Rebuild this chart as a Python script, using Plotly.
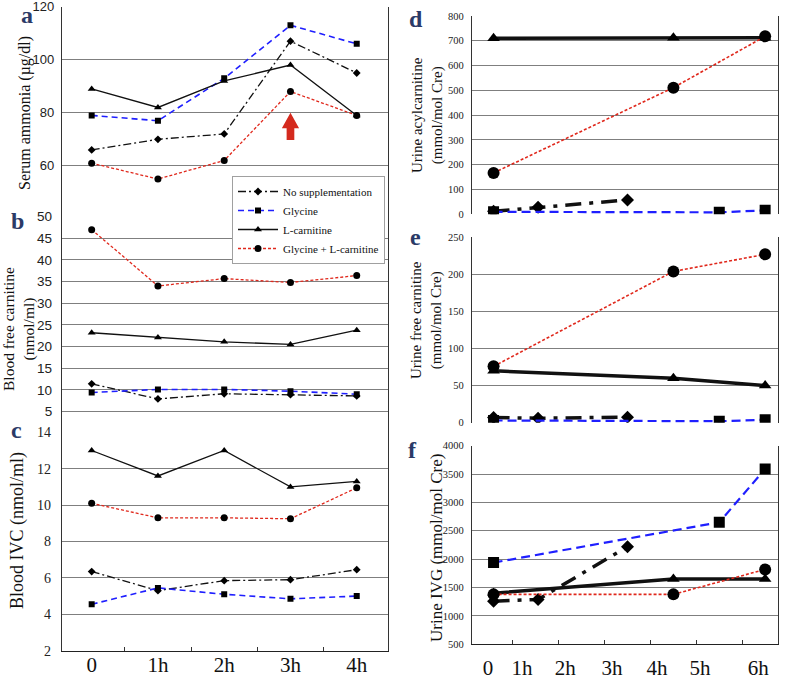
import plotly.graph_objects as go

# ---------------- data ----------------
series_names = ["No supplementation", "Glycine", "L-carnitine", "Glycine + L-carnitine"]

left_times = [0, 1, 2, 3, 4]
left_labels = ["0", "1h", "2h", "3h", "4h"]

a_nosupp = [66, 70, 72, 107, 95]
a_gly = [79, 77, 93, 113, 106]
a_lc = [89, 82, 92, 98, 79]
a_glylc = [61, 55, 62, 88, 79]

b_nosupp = [11.4, 7.9, 9.1, 8.9, 8.6]
b_gly = [9.4, 10.1, 10.1, 9.7, 9.0]
b_lc = [23.2, 22.1, 21.1, 20.5, 23.8]
b_glylc = [47.0, 34.0, 35.7, 34.8, 36.4]

c_nosupp = [6.35, 5.3, 5.85, 5.9, 6.45]
c_gly = [4.55, 5.45, 5.1, 4.85, 5.0]
c_lc = [13.0, 11.6, 13.0, 11.0, 11.3]
c_glylc = [10.1, 9.3, 9.3, 9.25, 10.95]

right_grid = [0, 1, 2, 3, 4, 5, 6]
right_labels = ["0", "1h", "2h", "3h", "4h", "5h", "6h"]
right_label_pos = [-0.04, 0.70, 1.64, 2.66, 3.64, 4.58, 5.85]

t_nosupp = [0.08, 1.05, 3.0]
t_gly = [0.08, 5.0, 6.0]
t_lc = [0.08, 4.0, 6.0]
t_glylc = [0.08, 4.0, 6.0]

d_nosupp = [12, 28, 58]
d_gly = [10, 8, 16]
d_lc = [710, 712, 712]
d_glylc = [167, 511, 718]

e_nosupp = [7, 6, 7.5]
e_gly = [3, 2, 4]
e_lc = [70, 60, 50]
e_glylc = [76, 204, 227]

f_nosupp = [1260, 1290, 2220]
f_gly = [1940, 2650, 3590]
f_lc = [1400, 1650, 1650]
f_glylc = [1380, 1380, 1820]

# ---------------- layout helpers ----------------
W, H = 790, 679
def ydom(top, bot):
    return [1 - bot / H, 1 - top / H]
def xdom(l, r):
    return [l / W, r / W]

LX = xdom(62, 388)
RX = xdom(472, 778)
LRANGE = [-0.448, 4.472]
RRANGE = [-0.39, 6.28]

SERIF = "Liberation Serif, Times New Roman, serif"
SANS = "Liberation Sans, Arial, sans-serif"
NARROW = "Liberation Sans Narrow, Arial Narrow, Liberation Sans, sans-serif"
BLUE = "#1f1fff"
RED = "#e0281c"
BLACK = "#111111"
NAVY = "#2b3a67"

styles = {
    "No supplementation": dict(color=BLACK, dash="8px,3px,2px,3px", symbol="diamond"),
    "Glycine": dict(color=BLUE, dash="6px,4px", symbol="square"),
    "L-carnitine": dict(color=BLACK, dash="solid", symbol="triangle-up"),
    "Glycine + L-carnitine": dict(color=RED, dash="3px,2px", symbol="circle"),
}

fig = go.Figure()

def add_series(x, y, name, xa, ya, lw=1.3, ms=6, dash=None, legend=False):
    s = styles[name]
    fig.add_trace(go.Scatter(
        x=x, y=y, name=name, mode="lines+markers",
        xaxis=xa, yaxis=ya, showlegend=legend, legendgroup=name,
        line=dict(color=s["color"], width=lw, dash=dash or s["dash"]),
        marker=dict(symbol=s["symbol"], size=ms, color="black"),
        hoverinfo="x+y+name",
    ))

# left panels
for ys, xa, ya, leg in [((a_nosupp, a_gly, a_lc, a_glylc), "x3", "y3", True),
                        ((b_nosupp, b_gly, b_lc, b_glylc), "x4", "y4", False),
                        ((c_nosupp, c_gly, c_lc, c_glylc), "x5", "y5", False)]:
    for vals, nm in zip(ys, series_names):
        ms = 7 if nm in ("L-carnitine", "Glycine + L-carnitine") else 6
        lw = 1.6 if nm == "Glycine" else 1.3
        add_series(left_times, vals, nm, xa, ya, lw=lw, ms=ms, legend=leg)

# right panels
right_specs = [
    ("x6", "y6", (d_nosupp, d_gly, d_lc, d_glylc)),
    ("x7", "y7", (e_nosupp, e_gly, e_lc, e_glylc)),
    ("x8", "y8", (f_nosupp, f_gly, f_lc, f_glylc)),
]
for xa, ya, (ns, gl, lc, gc) in right_specs:
    add_series(t_nosupp, ns, "No supplementation", xa, ya, lw=3.5, ms=10,
               dash="16px,8px,4px,8px")
    add_series(t_gly, gl, "Glycine", xa, ya, lw=2.2, ms=11, dash="9px,5px")
    add_series(t_lc, lc, "L-carnitine", xa, ya, lw=3.5, ms=11)
    add_series(t_glylc, gc, "Glycine + L-carnitine", xa, ya, lw=1.6, ms=12)

# ---------------- axes ----------------
HGRID = "#7f7f7f"
VGRID = "#c8c8c8"

def yax(dom, rng, tickvals, font, standoff=None, anchor="x3"):
    d = dict(domain=dom, range=rng, tickmode="array", tickvals=tickvals,
             showgrid=True, gridcolor=HGRID, gridwidth=1.3, zeroline=False,
             showline=True, linecolor="#333333", linewidth=1.3, mirror=True,
             ticks="", tickfont=font, anchor=anchor, automargin=False,
             ticklabeloverflow="allow")
    if standoff is not None:
        d["ticklabelstandoff"] = standoff
    return d

def hidden_x(dom, rng, anchor):
    return dict(domain=dom, range=rng, anchor=anchor, showgrid=False,
                zeroline=False, showticklabels=False, ticks="", showline=False,
                automargin=False)

layout = dict(
    width=W, height=H, margin=dict(l=0, r=0, t=0, b=0, autoexpand=False),
    paper_bgcolor="white", plot_bgcolor="rgba(0,0,0,0)",
    # background vertical grids (left and right columns)
    xaxis=dict(domain=LX, range=LRANGE, anchor="y", tickmode="array",
               tickvals=left_times, showgrid=True, gridcolor=VGRID, gridwidth=1.2,
               showticklabels=False, zeroline=False, ticks="", showline=False,
               automargin=False),
    yaxis=dict(domain=ydom(3, 650.7), range=[0, 1], anchor="x", visible=False,
               automargin=False),
    xaxis2=dict(domain=RX, range=RRANGE, anchor="y2", tickmode="array",
                tickvals=right_grid, showgrid=True, gridcolor=VGRID, gridwidth=1.2,
                showticklabels=False, zeroline=False, ticks="", showline=False,
                automargin=False),
    yaxis2=dict(domain=ydom(11, 644.3), range=[0, 1], anchor="x2", visible=False,
                automargin=False),
    # panel a
    xaxis3=hidden_x(LX, LRANGE, "y3"),
    yaxis3=yax(ydom(6.7, 216.7), [40.8, 120], [60, 80, 100, 120],
               dict(family=NARROW, size=13, color="#222"), 4, "x3"),
    # panel b
    xaxis4=hidden_x(LX, LRANGE, "y4"),
    yaxis4=yax(ydom(216.7, 432.3), [0.2, 50], [5, 10, 15, 20, 25, 30, 35, 40, 45, 50],
               dict(family=SANS, size=13.5, color="#222"), 6, "x4"),
    # panel c
    xaxis5=dict(domain=LX, range=LRANGE, anchor="y5", tickmode="array",
                tickvals=left_times, ticktext=left_labels, showgrid=False,
                zeroline=False, showline=True, linecolor="#222", linewidth=1.3,
                ticks="", ticklabelstandoff=-5, automargin=False,
                ticklabeloverflow="allow",
                tickfont=dict(family=SERIF, size=21, color="#111"),
                minor=dict(tickmode="array", tickvals=[0.5, 1.5, 2.5, 3.5],
                           ticks="inside", ticklen=4, tickcolor="#333", showgrid=False)),
    yaxis5=yax(ydom(432.3, 650.7), [2, 14], [2, 4, 6, 8, 10, 12, 14],
               dict(family=SERIF, size=14, color="#222"), 7, "x5"),
    # panel d
    xaxis6=hidden_x(RX, RRANGE, "y6"),
    yaxis6=yax(ydom(16, 214.3), [0, 800], list(range(0, 801, 100)),
               dict(family=SERIF, size=10.5, color="#222"), 5, "x6"),
    # panel e
    xaxis7=hidden_x(RX, RRANGE, "y7"),
    yaxis7=yax(ydom(237.3, 422.7), [0, 250], [0, 50, 100, 150, 200, 250],
               dict(family=SERIF, size=10.5, color="#222"), 5, "x7"),
    # panel f
    xaxis8=dict(domain=RX, range=RRANGE, anchor="y8", tickmode="array",
                tickvals=right_label_pos, ticktext=right_labels, showgrid=False,
                zeroline=False, showline=True, linecolor="#222", linewidth=1.3,
                ticks="", ticklabelstandoff=4, automargin=False,
                ticklabeloverflow="allow",
                tickfont=dict(family=SERIF, size=21, color="#111"),
                minor=dict(tickmode="array", tickvals=[0.5, 1.5, 2.5, 3.5, 4.5, 5.5],
                           ticks="inside", ticklen=4, tickcolor="#333", showgrid=False)),
    yaxis8=yax(ydom(445.7, 644.3), [500, 4000], list(range(500, 4001, 500)),
               dict(family=SERIF, size=10.5, color="#222"), 5, "x8"),
    legend=dict(x=232 / W, y=1 - 176 / H, xanchor="left", yanchor="top",
                bgcolor="white", bordercolor="#a0a0a0", borderwidth=1,
                font=dict(family=SERIF, size=11, color="#111"),
                tracegroupgap=0, itemwidth=40),
)
fig.update_layout(**layout)

# red arrow in panel a (at 3h)
fig.add_shape(type="path", xref="x3", yref="y3",
              path="M 3 80 L 3.13 74.2 L 3.058 74.2 L 3.058 69.7 L 2.942 69.7 "
                   "L 2.942 74.2 L 2.87 74.2 Z",
              fillcolor="#d42a1e", line=dict(width=0))

# axis titles
titles = [
    ("Serum ammonia (µg/dl)", 25, 113, 16),
    ("Blood free carnitine<br>(nmol/ml)", 19, 329, 15.5),
    ("Blood IVC (nmol/ml)", 17, 531, 18),
    ("Urine acylcarnitine<br>(mmol/mol Cre)", 427, 115, 15),
    ("Urine free carnitine<br>(mmol/mol Cre)", 426, 320, 15),
    ("Urine IVG (mmol/mol Cre)", 436, 548, 17),
]
for txt, px, py, fs in titles:
    fig.add_annotation(text=txt, x=px / W, y=1 - py / H, xref="paper", yref="paper",
                       showarrow=False, textangle=-90, xanchor="center", yanchor="middle",
                       font=dict(family=SERIF, size=fs, color="#111"))

letters = [("a", 27, 15), ("b", 17, 221), ("c", 16, 430),
           ("d", 416, 19), ("e", 415, 237), ("f", 412, 450)]
for t, px, py in letters:
    fig.add_annotation(text="<b>%s</b>" % t, x=px / W, y=1 - py / H, xref="paper",
                       yref="paper", showarrow=False, xanchor="center", yanchor="middle",
                       font=dict(family=SERIF, size=24, color=NAVY))

fig.write_html("out.html", config={"displayModeBar": False},
               post_script="document.body.style.margin='0';"
                           "document.body.style.padding='0';")
